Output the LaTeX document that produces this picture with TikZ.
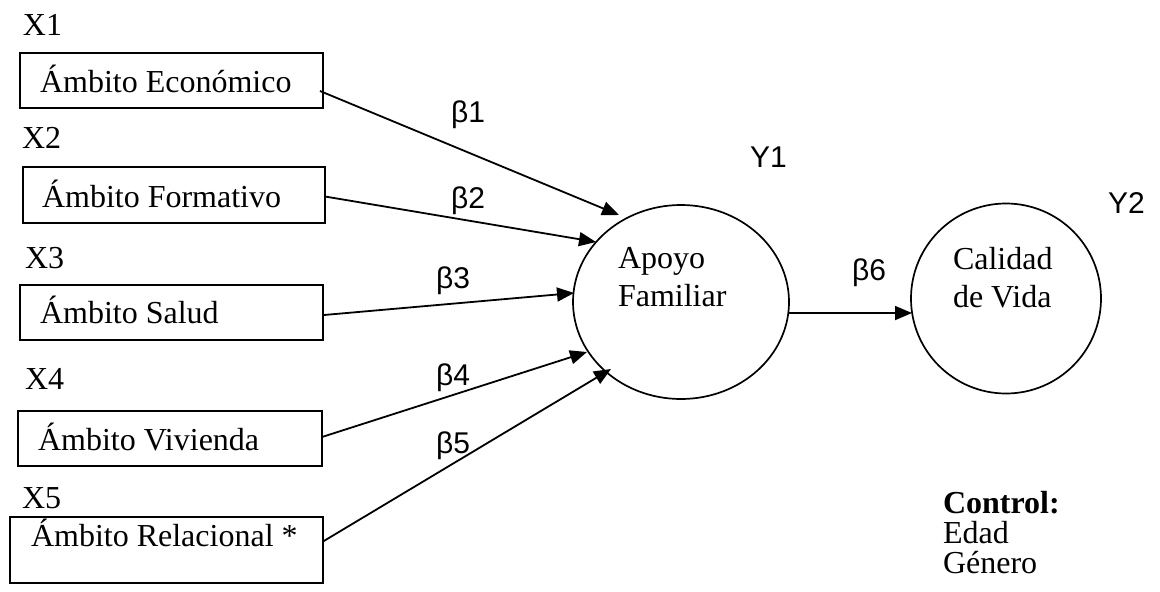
\documentclass[tikz,border=0pt]{standalone}
\usepackage{fontspec}
\setmainfont{Liberation Serif}
\newfontfamily\lsans{Liberation Sans}
\usetikzlibrary{arrows.meta,shapes.geometric}
\begin{document}
\begin{tikzpicture}[x=1pt,y=-1pt,
  every node/.style={inner sep=0pt, outer sep=0pt},
  txt/.style={font=\fontsize{32}{38}\selectfont, anchor=base west},
  btxt/.style={font=\bfseries\fontsize{32}{38}\selectfont, anchor=base west},
  ssf/.style={font=\lsans\fontsize{30}{36}\selectfont, anchor=base west},
  boxn/.style={draw, line width=2pt, anchor=north west},
  arr/.style={-{Triangle[length=17pt,width=14pt]}, line width=1.8pt}]
\useasboundingbox (0,0) rectangle (1160,592);

% variable labels
\node[txt] (x1) at (23,35) {X1};
\node[txt] (x2) at (22,148) {X2};
\node[txt] (x3) at (25,268) {X3};
\node[txt] (x4) at (25,389) {X4};
\node[txt] (x5) at (22,508) {X5};

% boxes
\node[boxn, minimum width=303pt, minimum height=55pt] (b1) at (20,53) {};
\node[boxn, minimum width=302pt, minimum height=56pt] (b2) at (23,167) {};
\node[boxn, minimum width=303pt, minimum height=55pt] (b3) at (20,285) {};
\node[boxn, minimum width=304pt, minimum height=55pt] (b4) at (18,411) {};
\node[boxn, minimum width=313pt, minimum height=66pt] (b5) at (10,517) {};

\node[txt] (l1) at (40,92) {Ámbito Económico};
\node[txt] (l2) at (42,207) {Ámbito Formativo};
\node[txt] (l3) at (40,323) {Ámbito Salud};
\node[txt] (l4) at (38,450) {Ámbito Vivienda};
\node[txt] (l5) at (31,546) {Ámbito Relacional *};

% latent variables
\node[draw, ellipse, line width=1.7pt, minimum width=216pt, minimum height=194pt] (ap) at (681,302) {};
\node[draw, circle, line width=1.7pt, minimum size=190pt] (cv) at (1006,298.5) {};

\node[txt] (a1) at (618,268) {Apoyo};
\node[txt] (a2) at (618,306) {Familiar};
\node[txt] (c1) at (953,269) {Calidad};
\node[txt] (c2) at (953,307) {de Vida};

\node[ssf] (y1) at (750,167) {Y1};
\node[ssf] (y2) at (1108,213) {Y2};

% arrow tips
\coordinate (t1) at (619,215);
\coordinate (t2) at (596,242);
\coordinate (t3) at (574,293);
\coordinate (t4) at (587,352);
\coordinate (t5) at (611,369);
\coordinate (t6) at (912,313);

\draw[arr] ([shift={(-3,10.5)}]b1.east) -- (t1);
\draw[arr] ([shift={(0,1.5)}]b2.east) -- (t2);
\draw[arr] ([shift={(1,2.5)}]b3.east) -- (t3);
\draw[arr] ([shift={(0,-1.5)}]b4.east) -- (t4);
\draw[arr] ([shift={(0,-8.5)}]b5.east) -- (t5);
\draw[arr] ([shift={(0,11)}]ap.east) -- (t6);

% coefficients
\node[ssf] (be1) at (451,122) {β1};
\node[ssf] (be2) at (451,208) {β2};
\node[ssf] (be3) at (436,288) {β3};
\node[ssf] (be4) at (436,385) {β4};
\node[ssf] (be5) at (436,453) {β5};
\node[ssf] (be6) at (852,280) {β6};

% control
\node[btxt] (ct) at (943,513) {Control:};
\node[txt] (ed) at (943,543) {Edad};
\node[txt] (ge) at (943,573) {Género};
\end{tikzpicture}
\end{document}
